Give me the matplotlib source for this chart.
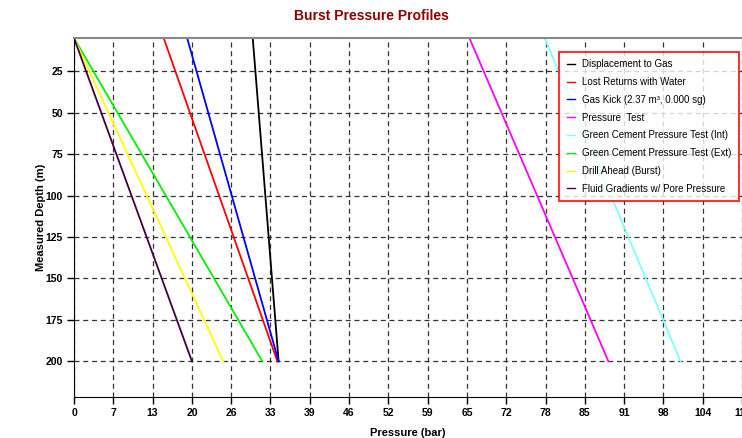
import matplotlib
matplotlib.use("Agg")
import matplotlib.pyplot as plt
import numpy as np

plt.rcParams['font.family'] = ['Liberation Sans', 'DejaVu Sans']

depths = [5, 200]
series_names = [
    "Displacement to Gas",
    "Lost Returns with Water",
    "Gas Kick (2.37 m³, 0.000 sg)",
    "Pressure  Test",
    "Green Cement Pressure Test (Int)",
    "Green Cement Pressure Test (Ext)",
    "Drill Ahead (Burst)",
    "Fluid Gradients w/ Pore Pressure",
]
displacement_to_gas = [29.7, 34.0]
lost_returns = [14.9, 33.8]
gas_kick = [18.8, 34.0]
pressure_test = [65.7, 88.8]
cement_int = [78.2, 100.8]
cement_ext = [0.0, 31.3]
drill_ahead = [0.0, 24.8]
fluid_gradients = [0.0, 19.6]
series_values = [displacement_to_gas, lost_returns, gas_kick, pressure_test,
                 cement_int, cement_ext, drill_ahead, fluid_gradients]
colors = ["#000000", "#ff0000", "#0000ff", "#ff00ff", "#80ffff", "#00ee00",
          "#ffff00", "#400040"]

x_max = 111.0
x_ticks = [i * x_max / 17 for i in range(18)]
x_labels = ["0", "7", "13", "20", "26", "33", "39", "46", "52", "59", "65", "72",
            "78", "85", "91", "98", "104", "111"]
y_ticks = [25, 50, 75, 100, 125, 150, 175, 200]

fig = plt.figure(figsize=(7.42, 4.38), dpi=100)
ax = fig.add_axes([74 / 742, 1 - 397 / 438, (742 - 74) / 742, (397 - 38) / 438])

for name, vals, c in zip(series_names, series_values, colors):
    ax.plot(vals, depths, color=c, lw=1.3, label=name, clip_on=True)

ax.set_xlim(0, x_max)
ax.set_ylim(221.5, 5)
ax.set_xticks(x_ticks)
ax.set_xticklabels(x_labels, fontsize=7.5, fontweight='bold')
ax.set_yticks(y_ticks)
ax.set_yticklabels([str(v) for v in y_ticks], fontsize=7.5, fontweight='bold')
ax.grid(True, color='#333333', linestyle=(0, (4, 3)), lw=0.9)
ax.tick_params(direction='out', length=5, width=1, pad=3)
for s in ['top', 'right']:
    ax.spines[s].set_color('#888888')
    ax.spines[s].set_linewidth(1.5)
ax.spines['right'].set_visible(False)
ax.set_xlabel("Pressure (bar)", fontsize=8, fontweight='bold', labelpad=7)
ax.set_ylabel("Measured Depth (m)", fontsize=8, fontweight='bold', labelpad=0)

fig.text(0.5, 1 - 16 / 438, "Burst Pressure Profiles", ha='center', va='center',
         fontsize=10, fontweight='bold', color='#8b0000')

leg = ax.legend(loc='upper right', bbox_to_anchor=(1 - 3 / 668, 1 - 14 / 359),
                fontsize=7, handlelength=0.8, handletextpad=0.8, labelspacing=0.8,
                frameon=True, fancybox=False, borderpad=0.75, borderaxespad=0)
leg.get_frame().set_edgecolor('#ff0000')
leg.get_frame().set_linewidth(1.5)
for h in leg.get_lines():
    h.set_linewidth(1.0)

fig.savefig("out.png", dpi=100)
